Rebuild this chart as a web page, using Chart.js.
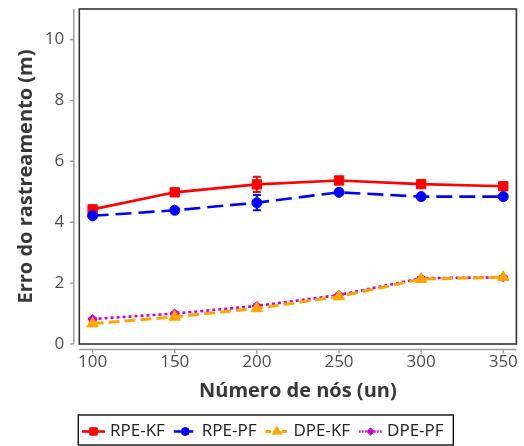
<!DOCTYPE html>
<html><head><meta charset="utf-8">
<script src="https://cdn.jsdelivr.net/npm/chart.js@4.4.1/dist/chart.umd.min.js"></script>
<style>html,body{margin:0;padding:0;background:#fff;overflow:hidden}#wrap{width:524px;height:446px;position:relative}</style>
</head><body><div id="wrap"><canvas id="c" width="524" height="446"></canvas></div>
<script>
const nodes = [100, 150, 200, 250, 300, 350];
const xTicks = [100, 150, 200, 250, 300, 350];
const yTicks = [0, 2, 4, 6, 8, 10];
const seriesLabels = ['RPE-KF', 'RPE-PF', 'DPE-KF', 'DPE-PF'];
const rpeKF = [4.42, 4.98, 5.24, 5.37, 5.25, 5.18];
const rpeKFErr = [0.08, 0.07, 0.25, 0.07, 0.07, 0.07];
const rpePF = [4.21, 4.39, 4.64, 4.98, 4.84, 4.84];
const rpePFErr = [0.07, 0.07, 0.25, 0.07, 0.07, 0.07];
const dpeKF = [0.67, 0.89, 1.17, 1.56, 2.13, 2.19];
const dpeKFErr = [0.05, 0.05, 0.05, 0.05, 0.05, 0.05];
const dpePF = [0.82, 1.00, 1.25, 1.61, 2.16, 2.19];
const dpePFErr = [0.04, 0.04, 0.04, 0.04, 0.04, 0.04];
const xTitle = 'Número de nós (un)';
const yTitle = 'Erro do rastreamento (m)';

const FONT = "'Open Sans', 'Noto Sans', sans-serif";
const TICK_COLOR = '#4d4d4d';
const TITLE_COLOR = '#383838';
const AXIS_GRAY = '#9a9a9a';

function pts(vals){ return nodes.map((x,i)=>({x:x, y:vals[i]})); }

const styles = [
  {color:'#ff0000', dash:[], width:2.6, point:'rect', r:6.6},
  {color:'#0000ff', dash:[16,7], width:2.6, point:'circle', r:5},
  {color:'#ffa500', dash:[11,5], width:3, point:'triangle', r:6.6},
  {color:'#cc00cc', dash:[3,3], width:2.6, point:'rectRot', r:4.6}
];
const values = [rpeKF, rpePF, dpeKF, dpePF];
const errors = [rpeKFErr, rpePFErr, dpeKFErr, dpePFErr];
const orders = [3, 2, 0, 1];

const datasets = seriesLabels.map((lab,i)=>({
  label: lab,
  data: pts(values[i]),
  borderColor: styles[i].color,
  backgroundColor: styles[i].color,
  borderWidth: styles[i].width,
  borderDash: styles[i].dash,
  pointStyle: styles[i].point,
  pointRadius: styles[i].r,
  pointBorderWidth: 1,
  pointBackgroundColor: styles[i].color,
  pointBorderColor: styles[i].color,
  tension: 0,
  order: orders[i],
  errs: errors[i]
}));

const framePlugin = {
  id: 'frame',
  beforeDatasetsDraw(chart){
    const ctx = chart.ctx, xs = chart.scales.x, ys = chart.scales.y;
    ctx.save();
    chart.data.datasets.forEach((ds)=>{
      ctx.strokeStyle = ds.borderColor;
      ctx.lineWidth = 2;
      ctx.setLineDash([]);
      ds.data.forEach((p,j)=>{
        const e = ds.errs[j];
        const px = xs.getPixelForValue(p.x);
        const y1 = ys.getPixelForValue(p.y + e), y2 = ys.getPixelForValue(p.y - e);
        ctx.beginPath();
        ctx.moveTo(px, y1); ctx.lineTo(px, y2);
        ctx.moveTo(px-4, y1); ctx.lineTo(px+4, y1);
        ctx.moveTo(px-4, y2); ctx.lineTo(px+4, y2);
        ctx.stroke();
      });
    });
    ctx.restore();
  },
  afterDraw(chart){
    const ctx = chart.ctx, a = chart.chartArea, xs = chart.scales.x, ys = chart.scales.y;
    ctx.save();
    ctx.setLineDash([]);
    // panel border
    ctx.strokeStyle = '#333333';
    ctx.lineWidth = 1.6;
    ctx.strokeRect(a.left, a.top, a.right - a.left, a.bottom - a.top);
    // separate y axis line
    ctx.strokeStyle = AXIS_GRAY;
    ctx.lineWidth = 1.4;
    const ax = a.left - 5.5;
    ctx.beginPath();
    ctx.moveTo(ax, a.top); ctx.lineTo(ax, ys.getPixelForValue(0));
    yTicks.forEach(v=>{ const py = ys.getPixelForValue(v); ctx.moveTo(ax, py); ctx.lineTo(ax-4, py); });
    ctx.stroke();
    // separate x axis line
    const ay = a.bottom + 5.5;
    ctx.beginPath();
    ctx.moveTo(a.left, ay); ctx.lineTo(a.right, ay);
    xTicks.forEach(v=>{ const px = xs.getPixelForValue(v); ctx.moveTo(px, ay); ctx.lineTo(px, ay+4); });
    ctx.stroke();
    // legend
    const lx0 = 78.3, ly0 = 415, lx1 = 453.3, ly1 = 445;
    ctx.strokeStyle = '#111111';
    ctx.lineWidth = 1.4;
    ctx.strokeRect(lx0, ly0, lx1 - lx0, ly1 - ly0);
    ctx.font = "17px " + FONT;
    ctx.textBaseline = 'middle';
    ctx.textAlign = 'left';
    const cy = 431.5;
    let x = 82;
    chart.data.datasets.forEach((ds,i)=>{
      const st = styles[i];
      ctx.strokeStyle = st.color;
      ctx.lineWidth = st.width;
      ctx.setLineDash(st.dash.length ? st.dash.map(d=>d*0.5) : []);
      ctx.beginPath(); ctx.moveTo(x, cy); ctx.lineTo(x+23, cy); ctx.stroke();
      ctx.setLineDash([]);
      ctx.fillStyle = st.color;
      ctx.strokeStyle = st.color;
      ctx.lineWidth = 1;
      Chart.helpers.drawPoint(ctx, {pointStyle: st.point, radius: st.r*0.8, borderWidth: 1}, x+11.5, cy);
      ctx.fillStyle = '#222222';
      ctx.fillText(ds.label, x+28, cy);
      x = x + 28 + ctx.measureText(ds.label).width + 9;
    });
    ctx.restore();
  }
};

new Chart(document.getElementById('c'), {
  type: 'line',
  data: { datasets: datasets },
  plugins: [framePlugin],
  options: {
    responsive: false,
    animation: false,
    devicePixelRatio: 1,
    layout: { padding: { top: 9, right: 7, bottom: 34, left: 0 } },
    plugins: { legend: { display: false }, tooltip: { enabled: false } },
    scales: {
      x: {
        type: 'linear', min: 91.9, max: 358,
        afterBuildTicks: s => { s.ticks = xTicks.map(v=>({value:v})); },
        afterFit: s => { s.height = 68; s.paddingLeft = 0; s.paddingRight = 0; },
        grid: { display: false, drawTicks: false },
        border: { display: false },
        ticks: { font: { family: FONT, size: 17 }, color: TICK_COLOR, padding: 8, maxRotation: 0 },
        title: { display: true, text: xTitle, font: { family: FONT, size: 20, weight: 'bold' }, color: TITLE_COLOR, padding: { top: 0, bottom: 9 } }
      },
      y: {
        type: 'linear', min: 0, max: 11,
        afterBuildTicks: s => { s.ticks = yTicks.map(v=>({value:v})); },
        afterFit: s => { s.width = 79.3; s.paddingTop = 0; s.paddingBottom = 0; },
        grid: { display: false, drawTicks: false },
        border: { display: false },
        ticks: { font: { family: FONT, size: 17 }, color: TICK_COLOR, padding: 15 },
        title: { display: true, text: yTitle, font: { family: FONT, size: 20, weight: 'bold' }, color: TITLE_COLOR, padding: { top: 14, bottom: 0 } }
      }
    }
  }
});
</script></body></html>
